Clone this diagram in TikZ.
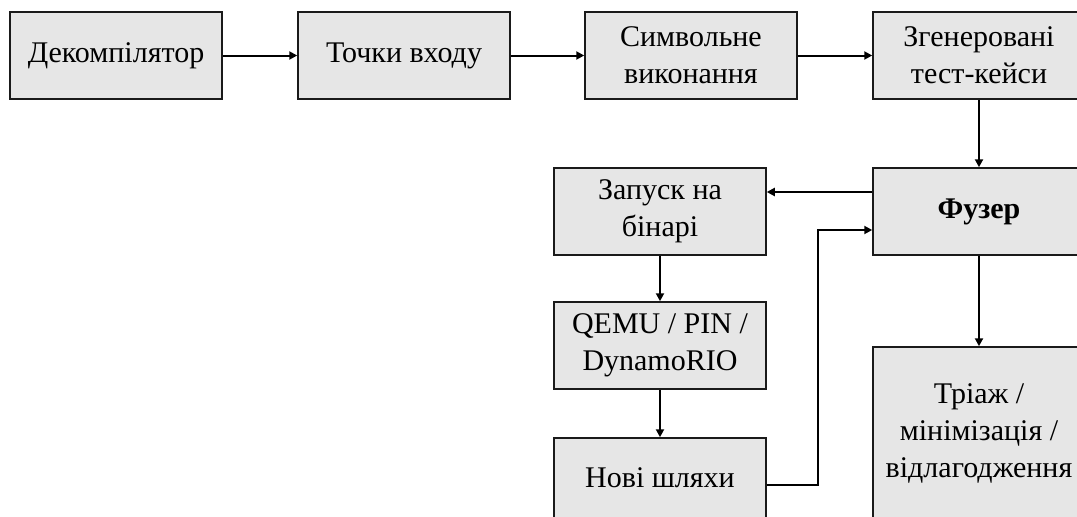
\documentclass[tikz,border=0pt]{standalone}
\usepackage{fontspec}
\setmainfont{Liberation Serif}
\usetikzlibrary{arrows.meta}
\definecolor{boxfill}{HTML}{E6E6E6}
\definecolor{boxline}{HTML}{1A1A1A}
\tikzset{
  blk/.style={draw=boxline, line width=1.5pt, fill=boxfill, minimum width=212pt, minimum height=87pt,
    inner sep=0pt, align=center, font=\fontsize{30}{37}\selectfont},
  conn/.style={line width=2pt, -{Triangle[length=8pt,width=8pt]}}
}
\begin{document}
\begin{tikzpicture}[x=1pt,y=-1pt]
\useasboundingbox (0,0) rectangle (1077,517);
\clip (0,0) rectangle (1077,517);
\node[blk] (dec) at (116,55.5) {Декомпілятор};
\node[blk] (toch) at (404,55.5) {Точки входу};
\node[blk] (sym) at (691,55.5) {Символьне\\виконання};
\node[blk] (gen) at (979,55.5) {Згенеровані\\тест-кейси};
\node[blk] (fuz) at (979,211.5) {\textbf{Фузер}};
\node[blk] (zap) at (660,211.5) {Запуск на\\бінарі};
\node[blk] (qemu) at (660,345.5) {QEMU / PIN /\\DynamoRIO};
\node[blk, minimum height=80pt] (nov) at (660,478) {Нові шляхи};
\node[blk, minimum height=173pt] (tri) at (979,433.5) {Тріаж /\\мінімізація /\\відлагодження};
\coordinate (bend1) at (818,485);
\coordinate (bend2) at (818,230);
\draw[conn] (dec) -- (toch);
\draw[conn] (toch) -- (sym);
\draw[conn] (sym) -- (gen);
\draw[conn] (gen) -- (fuz);
\draw[conn] (fuz.west |- 0,192) -- (zap.east |- 0,192);
\draw[conn] (zap) -- (qemu);
\draw[conn] (qemu) -- (nov);
\draw[conn] (nov.east |- bend1) -- (bend1) -- (bend2) -- (fuz.west |- bend2);
\draw[conn] (fuz) -- (tri);
\end{tikzpicture}
\end{document}
